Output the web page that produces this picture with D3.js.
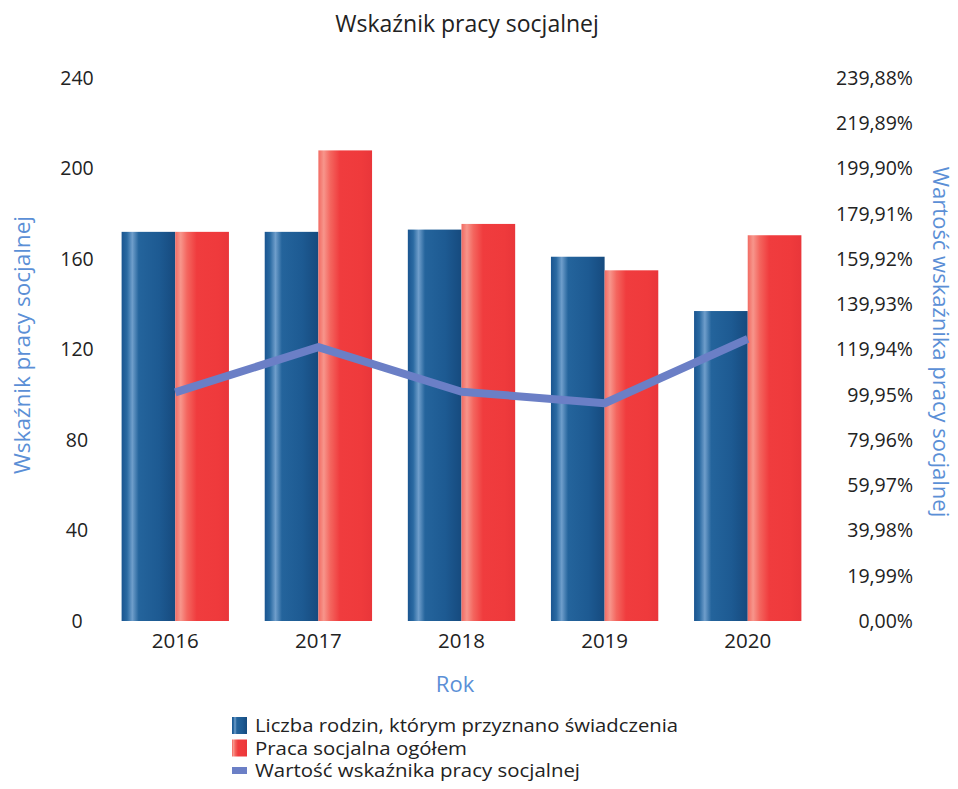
<!DOCTYPE html>
<html>
<head>
<meta charset="utf-8">
<script src="https://cdn.jsdelivr.net/npm/d3@7"></script>
<style>
  body { margin: 0; background: #fff; }
  svg text { font-family: "Open Sans", sans-serif; }
</style>
</head>
<body>
<div id="chart"></div>
<script>
'use strict';

// chart data
const years = ['2016', '2017', '2018', '2019', '2020'];
const families = [172, 172, 173, 161, 137];      // Liczba rodzin, którym przyznano świadczenia
const socialWork = [172, 208, 175.5, 155, 170.5];  // Praca socjalna ogółem
const indexValues = [101, 121, 101.3, 96.2, 124.6]; // Wartość wskaźnika pracy socjalnej (%)
const leftTicks = [0, 40, 80, 120, 160, 200, 240];
const rightTicks = [0, 19.99, 39.98, 59.97, 79.96, 99.95, 119.94, 139.93, 159.92, 179.91, 199.90, 219.89, 239.88];

const seriesNames = [
    'Liczba rodzin, którym przyznano świadczenia',
    'Praca socjalna ogółem',
    'Wartość wskaźnika pracy socjalnej'
];

(function() {
    const width = 958, height = 789;
    const svg = d3.select('#chart').append('svg')
        .attr('width', width)
        .attr('height', height);

    const defs = svg.append('defs');

    // horizontal "cylinder" gradients for the bars
    function addGradient(id, stops) {
        const grad = defs.append('linearGradient')
            .attr('id', id)
            .attr('x1', '0%').attr('x2', '100%')
            .attr('y1', '0%').attr('y2', '0%');
        stops.forEach(function(s) {
            grad.append('stop').attr('offset', s[0]).attr('stop-color', s[1]);
        });
    }
    addGradient('gBlue', [['0%', '#1a5590'], ['10%', '#2a6aa2'], ['20%', '#6f9ecb'], ['32%', '#24649c'], ['70%', '#1d5a92'], ['100%', '#164a7e']]);
    addGradient('gRed', [['0%', '#f26a62'], ['10%', '#f7958b'], ['22%', '#f4665f'], ['40%', '#f03c3e'], ['80%', '#ef3a3c'], ['100%', '#e9363a']]);

    const top = 78, bottom = 621;

    const x = d3.scaleBand()
        .domain(years)
        .range([103, 820])
        .paddingInner(0.25)
        .paddingOuter(0.13);

    const xSub = d3.scaleBand()
        .domain([0, 1])
        .range([0, x.bandwidth()]);

    const y = d3.scaleLinear().domain([0, 240]).range([bottom, top]);
    const yRight = d3.scaleLinear().domain([0, 239.88]).range([bottom, top]);

    // title
    svg.append('text')
        .attr('x', 467).attr('y', 32)
        .attr('text-anchor', 'middle')
        .attr('font-size', '23px')
        .attr('fill', '#222')
        .text('Wskaźnik pracy socjalnej');

    // left axis
    const leftAxis = svg.append('g')
        .attr('transform', 'translate(77,0)')
        .call(d3.axisLeft(y).tickValues(leftTicks).tickSize(0).tickPadding(0));
    leftAxis.select('.domain').remove();
    leftAxis.selectAll('text')
        .attr('text-anchor', 'middle')
        .attr('font-size', '19.5px')
        .attr('font-family', '"Open Sans", sans-serif')
        .attr('fill', '#222');

    // right axis
    const fmt = function(d) { return d.toFixed(2).replace('.', ',') + '%'; };
    const rightAxis = svg.append('g')
        .attr('transform', 'translate(913,0)')
        .call(d3.axisLeft(yRight).tickValues(rightTicks).tickFormat(fmt).tickSize(0).tickPadding(0));
    rightAxis.select('.domain').remove();
    rightAxis.selectAll('text')
        .attr('font-size', '19.5px')
        .attr('font-family', '"Open Sans", sans-serif')
        .attr('fill', '#222');

    // x axis labels
    const xAxis = svg.append('g')
        .attr('transform', 'translate(0,' + (bottom + 12) + ')')
        .call(d3.axisBottom(x).tickSize(0).tickPadding(0));
    xAxis.select('.domain').remove();
    xAxis.selectAll('text')
        .attr('font-size', '20.5px')
        .attr('font-family', '"Open Sans", sans-serif')
        .attr('fill', '#222');

    // axis titles
    svg.append('text')
        .attr('transform', 'translate(30,345) rotate(-90)')
        .attr('text-anchor', 'middle')
        .attr('font-size', '22.5px')
        .attr('fill', '#5b8fd6')
        .text('Wskaźnik pracy socjalnej');

    svg.append('text')
        .attr('transform', 'translate(933,342) rotate(90)')
        .attr('text-anchor', 'middle')
        .attr('font-size', '22px')
        .attr('fill', '#5b8fd6')
        .text('Wartość wskaźnika pracy socjalnej');

    svg.append('text')
        .attr('x', 455).attr('y', 692)
        .attr('text-anchor', 'middle')
        .attr('font-size', '22px')
        .attr('fill', '#5b8fd6')
        .text('Rok');

    // bars
    const groups = svg.append('g').selectAll('g')
        .data(years)
        .enter().append('g')
        .attr('transform', function(d) { return 'translate(' + x(d) + ',0)'; });

    groups.append('rect')
        .attr('x', xSub(0))
        .attr('width', xSub.bandwidth())
        .attr('y', function(d, i) { return y(families[i]); })
        .attr('height', function(d, i) { return bottom - y(families[i]); })
        .attr('fill', 'url(#gBlue)');

    groups.append('rect')
        .attr('x', xSub(1))
        .attr('width', xSub.bandwidth())
        .attr('y', function(d, i) { return y(socialWork[i]); })
        .attr('height', function(d, i) { return bottom - y(socialWork[i]); })
        .attr('fill', 'url(#gRed)');

    // index line
    const line = d3.line()
        .x(function(d, i) { return x(years[i]) + x.bandwidth() / 2; })
        .y(function(d) { return yRight(d); });

    svg.append('path')
        .datum(indexValues)
        .attr('d', line)
        .attr('fill', 'none')
        .attr('stroke', '#6b7fc6')
        .attr('stroke-width', 8)
        .attr('stroke-linejoin', 'round');

    // legend - small font stretched sideways so the tight rows don't collide
    const legend = svg.append('g').attr('transform', 'translate(232,717)');
    const swatch = [
        { fill: 'url(#gBlue)', h: 17, dy: 0 },
        { fill: 'url(#gRed)', h: 17, dy: 0 },
        { fill: '#6b7fc6', h: 7, dy: 5 }
    ];
    const legendWidths = [423, 212, 325];
    seriesNames.forEach(function(name, i) {
        const row = legend.append('g').attr('transform', 'translate(0,' + (i * 22.5) + ')');
        row.append('rect')
            .attr('x', 0).attr('y', swatch[i].dy)
            .attr('width', 15).attr('height', swatch[i].h)
            .attr('fill', swatch[i].fill);
        row.append('text')
            .attr('x', 23).attr('y', 15)
            .attr('font-size', '18px')
            .attr('textLength', legendWidths[i])
            .attr('lengthAdjust', 'spacingAndGlyphs')
            .attr('fill', '#222')
            .text(name);
    });
})();
</script>
</body>
</html>
